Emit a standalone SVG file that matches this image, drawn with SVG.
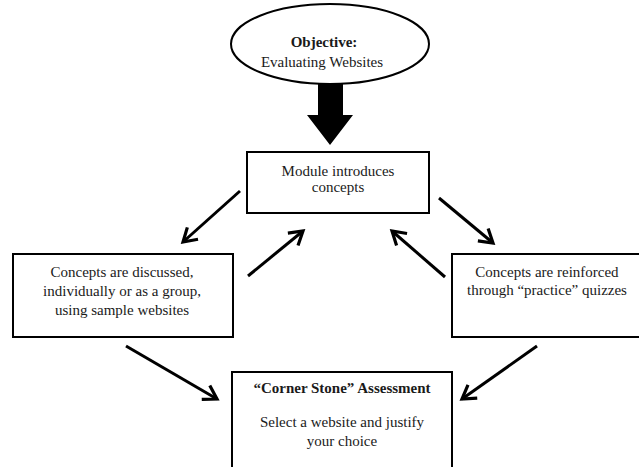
<svg xmlns="http://www.w3.org/2000/svg" width="639" height="467" viewBox="0 0 639 467">
<style>
.box{fill:#fff;stroke:#000;stroke-width:2}
.t{font-family:"Liberation Serif","Times New Roman",serif;font-size:15px;fill:#1a1a1a;text-anchor:middle}
.b{font-weight:bold}
.c{fill:none;stroke:#000;stroke-width:3;stroke-linecap:butt}
</style>
<defs>
<marker id="ah" viewBox="0 0 20 20" refX="17" refY="10" markerWidth="20" markerHeight="20" orient="auto" markerUnits="userSpaceOnUse">
<path d="M4,2 L17,10 L4,18" fill="none" stroke="#000" stroke-width="3.2"/>
</marker>
</defs>
<rect width="639" height="467" fill="#fff"/>
<g id="objective">
<ellipse cx="330" cy="44" rx="99" ry="40" class="box"/>
<text class="t b" x="324" y="47">Objective:</text>
<text class="t" x="322" y="67">Evaluating Websites</text>
</g>
<g id="module">
<rect x="247" y="152" width="182" height="61" class="box"/>
<text class="t" x="338" y="176">Module introduces</text>
<text class="t" x="338" y="192">concepts</text>
</g>
<g id="discussed">
<rect x="13" y="254" width="220" height="83" class="box"/>
<text class="t" x="122" y="277">Concepts are discussed,</text>
<text class="t" x="122" y="296">individually or as a group,</text>
<text class="t" x="122" y="315">using sample websites</text>
</g>
<g id="reinforced">
<rect x="452" y="254" width="190" height="83" class="box"/>
<text class="t" x="547" y="277">Concepts are reinforced</text>
<text class="t" x="547" y="295">through “practice” quizzes</text>
</g>
<g id="assessment">
<rect x="232" y="372" width="220" height="100" class="box"/>
<text class="t b" x="342" y="393">“Corner Stone” Assessment</text>
<text class="t" x="342" y="427">Select a website and justify</text>
<text class="t" x="342" y="446">your choice</text>
</g>
<g id="connectors">
<path d="M318,83 L343,83 L343,115 L353,115 L330,145 L307,115 L318,115 Z" fill="#000"/>
<line class="c" x1="240" y1="191" x2="183" y2="242" marker-end="url(#ah)"/>
<line class="c" x1="248" y1="276" x2="303" y2="231" marker-end="url(#ah)"/>
<line class="c" x1="439" y1="198" x2="493" y2="243" marker-end="url(#ah)"/>
<line class="c" x1="445" y1="277" x2="392" y2="231" marker-end="url(#ah)"/>
<line class="c" x1="126" y1="346" x2="217" y2="399" marker-end="url(#ah)"/>
<line class="c" x1="537" y1="346" x2="462" y2="399" marker-end="url(#ah)"/>
</g>
</svg>
